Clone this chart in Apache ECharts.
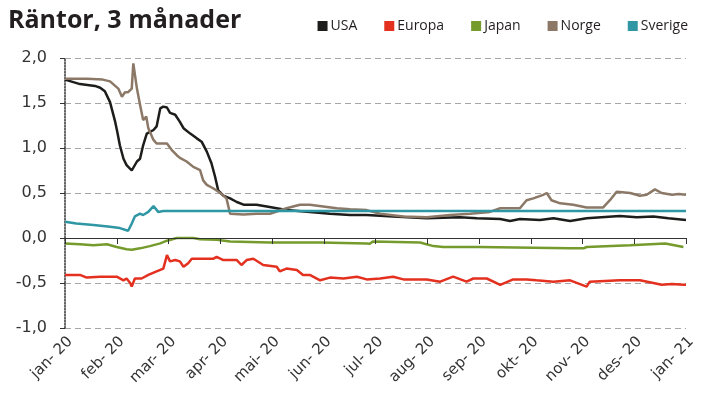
<!DOCTYPE html>
<html>
<head>
<meta charset="utf-8">
<script src="https://cdn.jsdelivr.net/npm/echarts@6/dist/echarts.min.js"></script>
<style>
  html, body { margin: 0; padding: 0; background: #fff; }
  #main { width: 707px; height: 403px; }
</style>
</head>
<body>
<div id="main"></div>
<script>
  // x = months since start of jan 2020, y = 3-month rate in %
  var monthLabels = ['jan- 20', 'feb- 20', 'mar- 20', 'apr- 20', 'mai- 20', 'jun- 20', 'jul- 20',
    'aug- 20', 'sep- 20', 'okt- 20', 'nov- 20', 'des- 20', 'jan- 21'];

  var usa = [[0, 1.76], [0.29, 1.71], [0.58, 1.69], [0.68, 1.67], [0.77, 1.63], [0.87, 1.51], [0.97, 1.29],
    [1.01, 1.18], [1.06, 1.03], [1.13, 0.88], [1.19, 0.81], [1.29, 0.75], [1.32, 0.74], [1.39, 0.85],
    [1.45, 0.88], [1.51, 1.03], [1.58, 1.16], [1.71, 1.2], [1.77, 1.24], [1.84, 1.44], [1.9, 1.46],
    [1.97, 1.45], [2.03, 1.39], [2.13, 1.37], [2.22, 1.29], [2.29, 1.22], [2.42, 1.16], [2.54, 1.11],
    [2.64, 1.07], [2.74, 0.96], [2.83, 0.83], [2.9, 0.68], [2.96, 0.53], [3.06, 0.47], [3.19, 0.44],
    [3.32, 0.4], [3.45, 0.37], [3.7, 0.37], [3.9, 0.35], [4.09, 0.33], [4.28, 0.31], [4.73, 0.29],
    [5.12, 0.27], [5.51, 0.255], [5.83, 0.255], [6.34, 0.24], [6.99, 0.22], [7.63, 0.23], [7.96, 0.22],
    [8.41, 0.21], [8.6, 0.19], [8.79, 0.21], [9.18, 0.2], [9.44, 0.22], [9.76, 0.19], [10.08, 0.22],
    [10.72, 0.245], [11.05, 0.23], [11.37, 0.24], [11.66, 0.22], [12, 0.2]];

  var europa = [[0, -0.41], [0.29, -0.41], [0.42, -0.44], [0.68, -0.43], [1.0, -0.43], [1.13, -0.47],
    [1.19, -0.45], [1.26, -0.5], [1.29, -0.54], [1.35, -0.45], [1.48, -0.45], [1.61, -0.41], [1.77, -0.37],
    [1.9, -0.34], [1.97, -0.19], [2.03, -0.26], [2.13, -0.245], [2.22, -0.26], [2.29, -0.32], [2.38, -0.28],
    [2.45, -0.23], [2.67, -0.23], [2.87, -0.23], [2.93, -0.21], [3.06, -0.245], [3.32, -0.245], [3.41, -0.3],
    [3.51, -0.245], [3.64, -0.23], [3.83, -0.3], [4.09, -0.32], [4.15, -0.37], [4.28, -0.34], [4.48, -0.355],
    [4.6, -0.41], [4.73, -0.41], [4.93, -0.47], [5.12, -0.44], [5.38, -0.45], [5.64, -0.43], [5.83, -0.46],
    [6.09, -0.45], [6.34, -0.43], [6.54, -0.46], [6.99, -0.46], [7.25, -0.485], [7.5, -0.43], [7.76, -0.485],
    [7.89, -0.45], [8.15, -0.45], [8.41, -0.52], [8.66, -0.46], [8.92, -0.46], [9.11, -0.47], [9.44, -0.485],
    [9.76, -0.47], [10.08, -0.54], [10.14, -0.485], [10.72, -0.47], [11.11, -0.47], [11.37, -0.5],
    [11.53, -0.52], [11.73, -0.51], [11.95, -0.52], [12, -0.52]];

  var japan = [[0, -0.06], [0.29, -0.07], [0.55, -0.08], [0.81, -0.07], [1.0, -0.1], [1.19, -0.125],
    [1.29, -0.13], [1.45, -0.115], [1.64, -0.09], [1.84, -0.06], [1.97, -0.03], [2.16, 0.0], [2.48, 0.0],
    [2.61, -0.015], [2.93, -0.02], [3.19, -0.04], [3.96, -0.05], [4.93, -0.05], [5.83, -0.06], [5.89, -0.065],
    [5.95, -0.04], [6.86, -0.05], [7.12, -0.09], [7.31, -0.1], [7.96, -0.1], [7.98, -0.12], [8.0, -0.1],
    [9.76, -0.115], [10.02, -0.115], [10.08, -0.1], [10.92, -0.08], [11.6, -0.06], [11.95, -0.1]];

  var norge = [[0, 1.77], [0.15, 1.77], [0.42, 1.77], [0.73, 1.76], [0.87, 1.74], [1.03, 1.66], [1.1, 1.57],
    [1.16, 1.62], [1.22, 1.62], [1.29, 1.66], [1.32, 1.94], [1.39, 1.66], [1.45, 1.48], [1.51, 1.31],
    [1.57, 1.35], [1.61, 1.22], [1.71, 1.09], [1.77, 1.05], [1.97, 1.05], [2.06, 0.98], [2.16, 0.92],
    [2.22, 0.89], [2.35, 0.85], [2.48, 0.79], [2.61, 0.755], [2.67, 0.64], [2.74, 0.59], [2.87, 0.55],
    [3.0, 0.5], [3.12, 0.44], [3.19, 0.27], [3.45, 0.26], [3.7, 0.27], [3.96, 0.27], [4.28, 0.33],
    [4.54, 0.37], [4.73, 0.37], [4.99, 0.35], [5.25, 0.33], [5.51, 0.32], [5.83, 0.31], [6.09, 0.27],
    [6.54, 0.24], [6.99, 0.23], [7.44, 0.255], [7.83, 0.27], [8.21, 0.29], [8.41, 0.33], [8.79, 0.33],
    [8.92, 0.42], [9.05, 0.44], [9.24, 0.48], [9.31, 0.5], [9.4, 0.42], [9.57, 0.385], [9.82, 0.37],
    [10.08, 0.34], [10.4, 0.34], [10.53, 0.42], [10.66, 0.515], [10.92, 0.5], [11.11, 0.47], [11.24, 0.48],
    [11.4, 0.54], [11.53, 0.5], [11.73, 0.48], [11.86, 0.49], [12, 0.48]];

  var sverige = [[0, 0.18], [0.22, 0.16], [0.55, 0.145], [0.87, 0.125], [1.06, 0.11], [1.22, 0.08],
    [1.29, 0.16], [1.35, 0.24], [1.45, 0.27], [1.51, 0.255], [1.61, 0.29], [1.71, 0.355], [1.8, 0.29],
    [1.9, 0.3], [12, 0.3]];

  var colors = ['#1d1d1b', '#e3301f', '#759b2d', '#8b7866', '#2f96a3'];
  var names = ['USA', 'Europa', 'Japan', 'Norge', 'Sverige'];
  var datasets = [usa, europa, japan, norge, sverige];

  var chart = echarts.init(document.getElementById('main'));

  // zero line with month ticks, drawn as a markLine in data space
  var zeroAxis = [{ yAxis: 0 }];
  monthLabels.forEach(function (lbl, i) {
    zeroAxis.push([{ coord: [i, 0] }, { coord: [i, -0.067] }]);
  });

  var series = datasets.map(function (d, i) {
    var s = {
      name: names[i],
      type: 'line',
      data: d,
      showSymbol: false,
      lineStyle: { width: 2.5, color: colors[i] },
      itemStyle: { color: colors[i] },
      z: i === 4 ? 4 : 2
    };
    if (i === 0) {
      s.markLine = {
        silent: true,
        symbol: 'none',
        label: { show: false },
        emphasis: { disabled: true },
        lineStyle: { color: '#333', width: 1, type: 'solid' },
        data: zeroAxis
      };
    }
    return s;
  });

  chart.setOption({
    animation: false,
    color: colors,
    title: {
      text: 'Räntor, 3 månader',
      left: 3,
      top: 3,
      textStyle: { fontFamily: 'Open Sans', fontWeight: 'bold', fontSize: 25, color: '#231f20' }
    },
    legend: {
      data: names,
      right: 14,
      top: 14,
      icon: 'rect',
      itemWidth: 10,
      itemHeight: 10,
      itemGap: 27,
      textStyle: { fontFamily: 'Open Sans', fontSize: 14, color: '#231f20', padding: [0, 0, 0, -2] }
    },
    grid: { left: 65, right: 21, top: 58, bottom: 75, containLabel: false, outerBoundsMode: 'none' },
    xAxis: {
      type: 'value',
      min: 0,
      max: 12,
      interval: 1,
      position: 'bottom',
      axisLine: { show: false, onZero: false },
      axisTick: { show: false },
      splitLine: { show: false },
      axisLabel: {
        rotate: 45,
        margin: 6,
        verticalAlign: 'top',
        fontFamily: 'DejaVu Sans',
        fontSize: 15,
        color: '#333',
        formatter: function (v) { return monthLabels[Math.round(v)]; }
      }
    },
    yAxis: {
      type: 'value',
      min: -1,
      max: 2,
      interval: 0.5,
      axisLine: { show: true, lineStyle: { color: '#333', type: 'dotted', width: 1.5 } },
      axisTick: { show: true, length: 5, lineStyle: { color: '#333' } },
      splitLine: { show: true, lineStyle: { color: '#a6a6a6', type: [6, 4], width: 1 } },
      axisLabel: {
        margin: 18,
        fontFamily: 'DejaVu Sans',
        fontSize: 16,
        color: '#333',
        formatter: function (v) { return v.toFixed(1).replace('.', ','); }
      }
    },
    series: series
  });
</script>
</body>
</html>
